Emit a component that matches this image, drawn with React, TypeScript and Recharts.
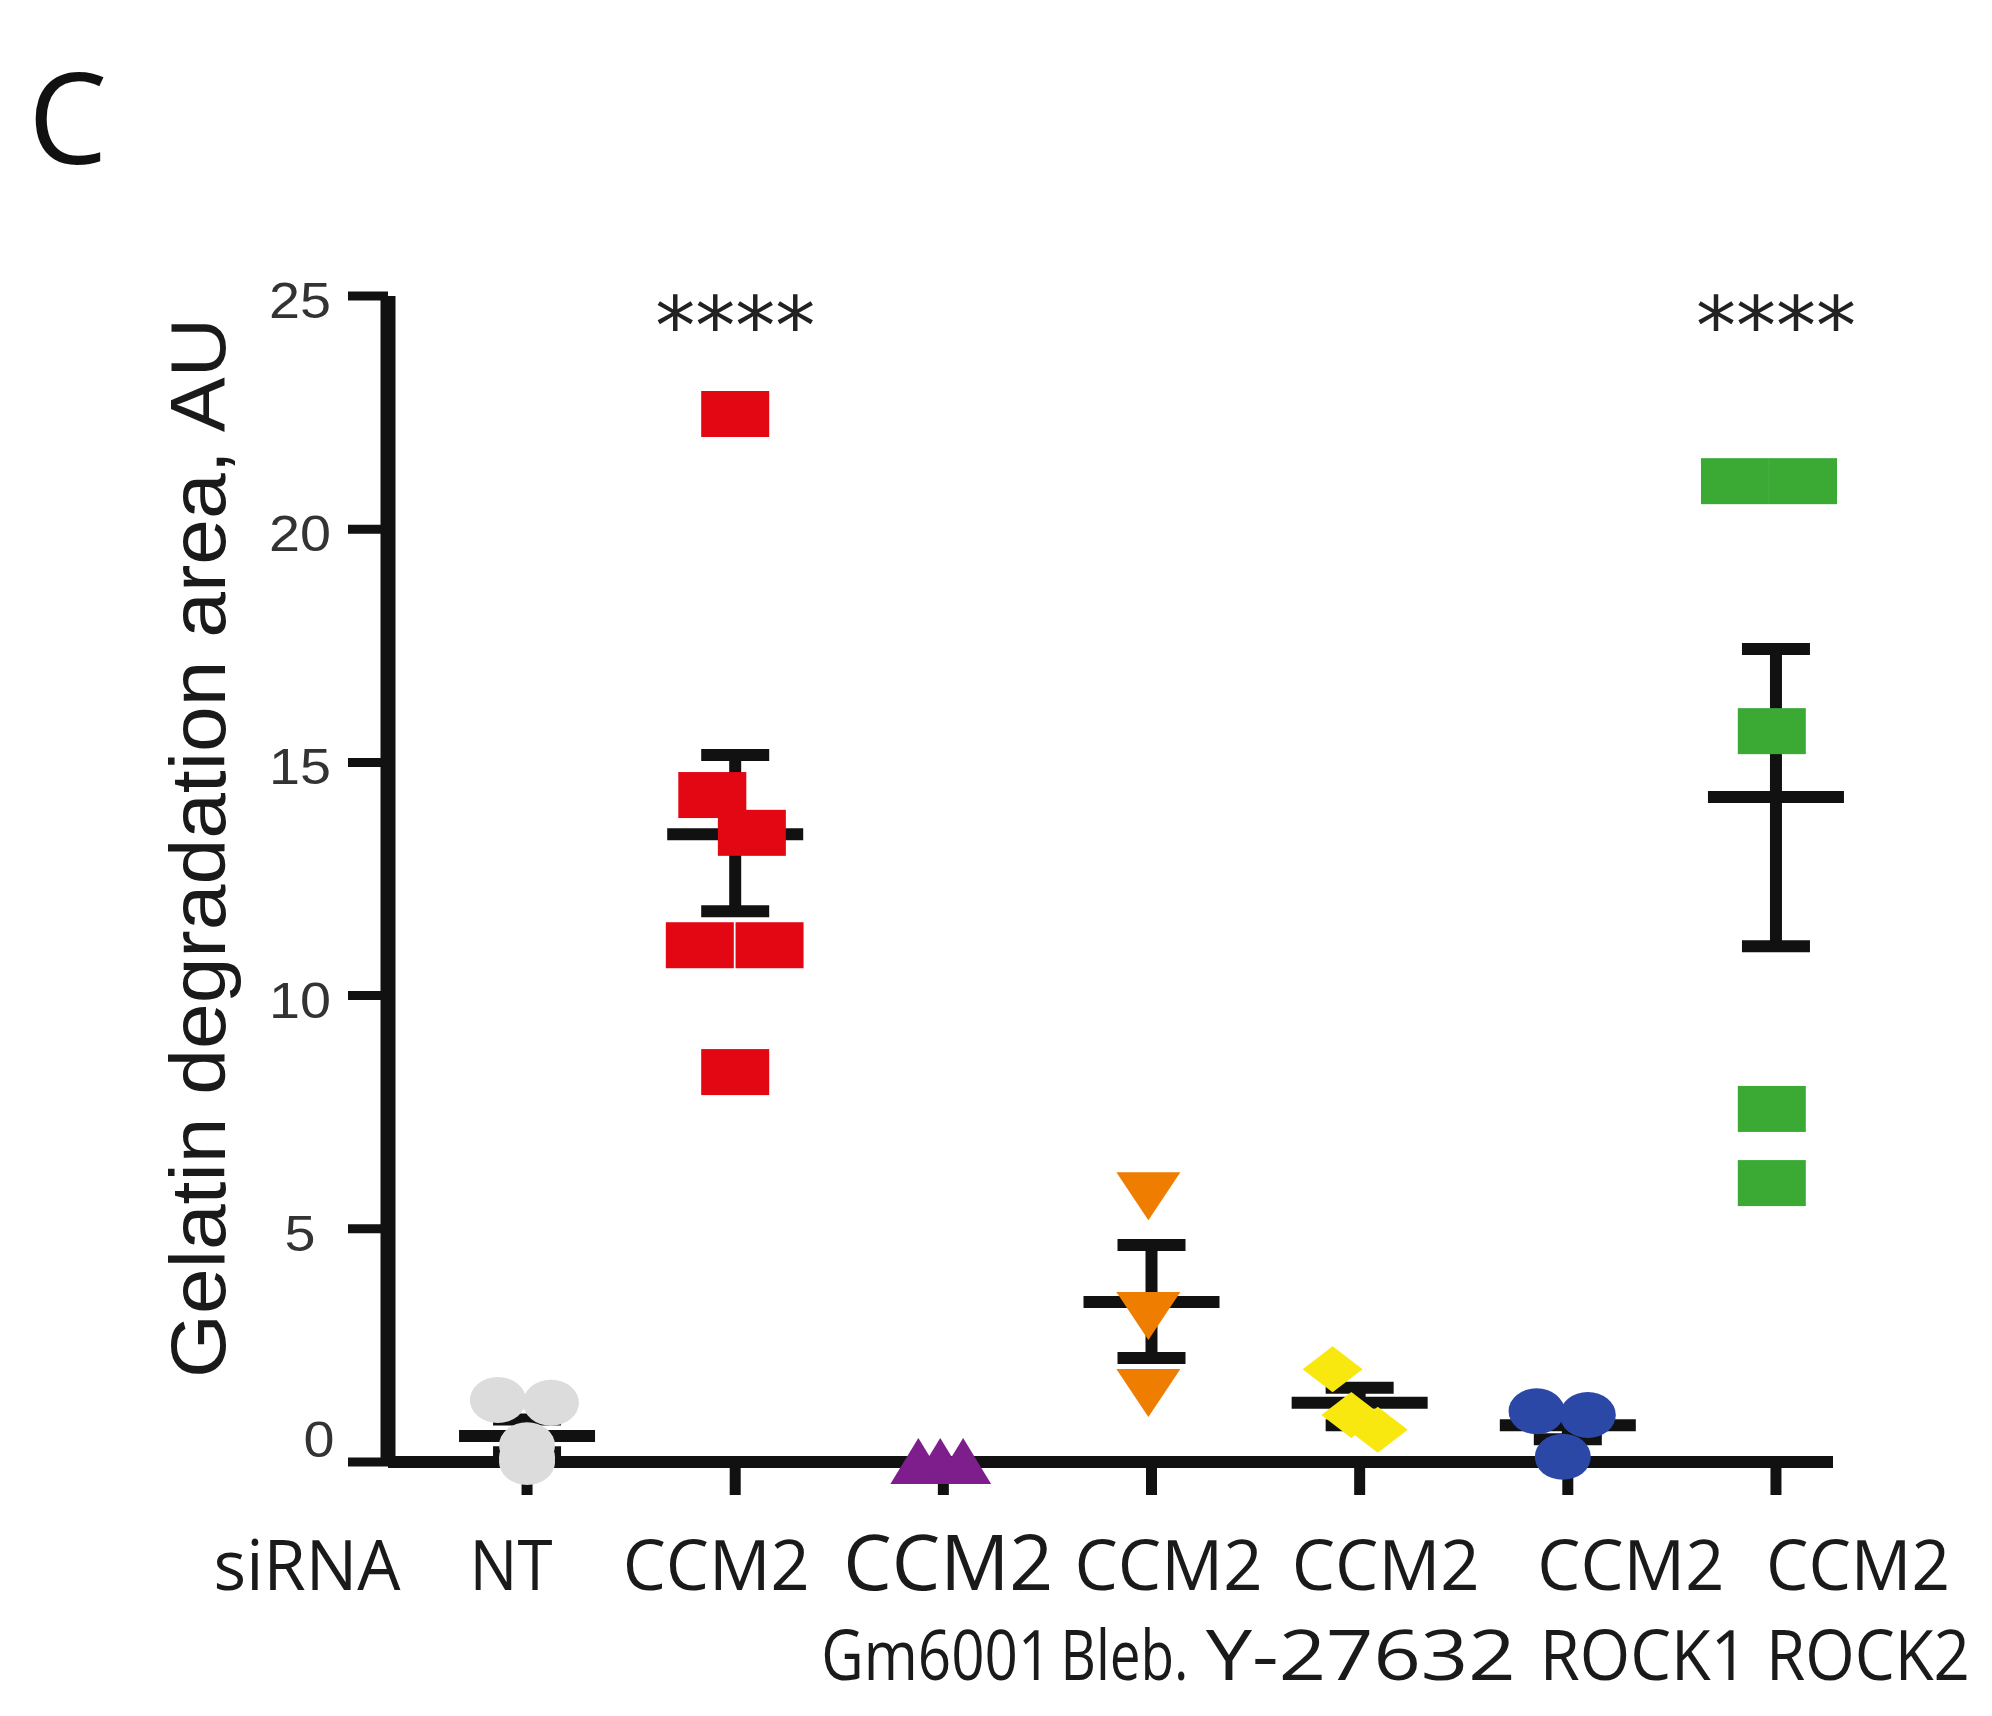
import React from "react";
import { ScatterChart, Scatter, XAxis, YAxis, ErrorBar, Label } from "recharts";

// category labels under the axis
const categories = ["NT", "CCM2", "CCM2", "CCM2", "CCM2", "CCM2", "CCM2"];
const treatments = ["", "", "Gm6001", "Bleb.", "Y-27632", "ROCK1", "ROCK2"];
const yTicks = [0, 5, 10, 15, 20, 25];
const xTicks = [0, 1, 2, 3, 4, 5, 6];

const ntValues = [1.33, 1.27, 0.36, 0.1, 0.0];
const ntJitter = [-0.14, 0.115, 0.0, 0.0, 0.0];
const ccm2Values = [22.47, 14.3, 13.49, 11.08, 11.08, 8.36];
const ccm2Jitter = [0, -0.11, 0.08, -0.17, 0.165, 0];
const gm6001Values = [0.02, 0.02, 0.02];
const gm6001Jitter = [-0.12, -0.015, 0.095];
const blebValues = [5.7, 3.13, 1.48];
const blebJitter = [-0.015, -0.015, -0.015];
const y27632Values = [1.99, 1.01, 0.69];
const y27632Jitter = [-0.13, -0.04, 0.087];
const rock1Values = [1.09, 1.01, 0.11];
const rock1Jitter = [-0.15, 0.096, -0.024];
const rock2Values = [21.03, 21.03, 15.67, 7.57, 5.98];
const rock2Jitter = [-0.197, 0.13, -0.02, -0.02, -0.02];

// mean and error bar extents per group
const means = [0.56, 13.46, 0, 3.43, 1.27, 0.79, 14.26];
const errLow = [0.35, 1.65, 0, 1.2, 0.48, 0.3, 3.2];
const errHigh = [0.35, 1.7, 0, 1.22, 0.32, 0.3, 3.17];

// significance marks
const starGroups = [1, 6];
const starLevel = 24.7;

// label layout (px offsets from tick, and drawn widths)
const row1Dx = [-16, -19, 5, 17, 26, 63, 82];
const row1W = [83, 187, 210, 188, 188, 187, 184];
const row2Dx = [0, 0, -7, -27, 1, 76, 92];
const row2W = [0, 0, 230, 128, 310, 208, 204];

const toPoints = (vals: number[], jit: number[], g: number) =>
  vals.map((v, k) => ({ x: g + jit[k], y: v }));

const summary = means.map((m, i) => ({ x: i, y: m, err: [errLow[i], errHigh[i]] }));
const stars = starGroups.map((g) => ({ x: g, y: starLevel }));

const INK = "#111";

const makeRect = (fill: string) => (p: any) => (
  <rect x={p.cx - 34} y={p.cy - 23} width={68} height={46} fill={fill} />
);
const makeEllipse = (fill: string) => (p: any) => (
  <ellipse cx={p.cx} cy={p.cy} rx={28} ry={23} fill={fill} />
);
const makeTriUp = (fill: string) => (p: any) => (
  <polygon
    points={`${p.cx},${p.cy - 23} ${p.cx + 28},${p.cy + 23} ${p.cx - 28},${p.cy + 23}`}
    fill={fill}
  />
);
const makeTriDown = (fill: string) => (p: any) => (
  <polygon
    points={`${p.cx - 32},${p.cy - 24} ${p.cx + 32},${p.cy - 24} ${p.cx},${p.cy + 24}`}
    fill={fill}
  />
);
const makeDiamond = (fill: string) => (p: any) => (
  <polygon
    points={`${p.cx},${p.cy - 23} ${p.cx + 30},${p.cy} ${p.cx},${p.cy + 23} ${p.cx - 30},${p.cy}`}
    fill={fill}
  />
);

const groups = [
  { key: "nt", data: toPoints(ntValues, ntJitter, 0), shape: makeEllipse("#dcdcdc") },
  { key: "ccm2", data: toPoints(ccm2Values, ccm2Jitter, 1), shape: makeRect("#e30613") },
  { key: "gm", data: toPoints(gm6001Values, gm6001Jitter, 2), shape: makeTriUp("#7d1e8c") },
  { key: "bleb", data: toPoints(blebValues, blebJitter, 3), shape: makeTriDown("#ef7d00") },
  { key: "y27", data: toPoints(y27632Values, y27632Jitter, 4), shape: makeDiamond("#f8e80f") },
  { key: "rock1", data: toPoints(rock1Values, rock1Jitter, 5), shape: makeEllipse("#2b48a6") },
  { key: "rock2", data: toPoints(rock2Values, rock2Jitter, 6), shape: makeRect("#3aaa35") },
];

const MeanLine = (p: any) => (
  <line x1={p.cx - 68} x2={p.cx + 68} y1={p.cy} y2={p.cy} stroke={INK} strokeWidth={12} />
);

const StarShape = (p: any) => (
  <text
    x={p.cx}
    y={p.cy + 44}
    textAnchor="middle"
    fontFamily="DejaVu Sans"
    fontSize={80}
    fill="#222"
  >
    ****
  </text>
);

const labelFont = "'Open Sans', 'Noto Sans', sans-serif";

function XTick(props: any) {
  const { x, y, payload } = props;
  const i = payload.value as number;
  return (
    <g>
      {i === 0 && (
        <text
          x={x - 220}
          y={y + 95}
          textAnchor="middle"
          fontFamily={labelFont}
          fontSize={70}
          fill="#1a1a1a"
          textLength={187}
          lengthAdjust="spacingAndGlyphs"
        >
          siRNA
        </text>
      )}
      <text
        x={x + row1Dx[i]}
        y={y + 95}
        textAnchor="middle"
        fontFamily={labelFont}
        fontSize={i === 2 ? 76 : 70}
        fill="#1a1a1a"
        textLength={row1W[i]}
        lengthAdjust="spacingAndGlyphs"
      >
        {categories[i]}
      </text>
      {treatments[i] && (
        <text
          x={x + row2Dx[i]}
          y={y + 185}
          textAnchor="middle"
          fontFamily={labelFont}
          fontSize={70}
          fill="#1a1a1a"
          textLength={row2W[i]}
          lengthAdjust="spacingAndGlyphs"
        >
          {treatments[i]}
        </text>
      )}
    </g>
  );
}

function YTick(props: any) {
  const { x, y, payload } = props;
  const v = payload.value as number;
  const s = String(v);
  const isZero = v === 0;
  return (
    <text
      x={isZero ? x - 11 : x - 30}
      y={isZero ? y - 5 : y + 22}
      textAnchor="middle"
      fontFamily="'Liberation Sans', Arial, sans-serif"
      fontSize={50}
      fill="#333"
      textLength={s.length * 31}
      lengthAdjust="spacingAndGlyphs"
    >
      {s}
    </text>
  );
}

const renderYLabel = () => (
  <text
    x={225}
    y={848}
    transform="rotate(-90 225 848)"
    textAnchor="middle"
    fontFamily="'Liberation Sans', Arial, sans-serif"
    fontSize={78}
    fill="#1a1a1a"
    textLength={1060}
    lengthAdjust="spacingAndGlyphs"
  >
    Gelatin degradation area, AU
  </text>
);

export default function App() {
  return (
    <div
      style={{
        position: "absolute",
        left: 0,
        top: 0,
        width: 1992,
        height: 1716,
        background: "#fff",
        overflow: "hidden",
      }}
    >
      <div
        style={{
          position: "absolute",
          left: 28,
          top: 52,
          fontFamily: "'Open Sans', sans-serif",
          fontSize: 126,
          lineHeight: 1,
          color: "#111",
        }}
      >
        C
      </div>
      <ScatterChart
        width={1992}
        height={1716}
        margin={{ top: 296, right: 159, bottom: 0, left: 0 }}
      >
        <XAxis
          type="number"
          dataKey="x"
          domain={[-0.668, 6.274]}
          ticks={xTicks}
          interval={0}
          height={254}
          tickSize={33}
          tickMargin={0}
          axisLine={{ stroke: INK, strokeWidth: 12 }}
          tickLine={{ stroke: INK, strokeWidth: 11 }}
          tick={<XTick />}
        />
        <YAxis
          type="number"
          dataKey="y"
          domain={[0, 25]}
          ticks={yTicks}
          interval={0}
          width={388}
          tickSize={40}
          tickMargin={18}
          axisLine={{ stroke: INK, strokeWidth: 15 }}
          tickLine={{ stroke: INK, strokeWidth: 9 }}
          tick={<YTick />}
        >
          <Label content={renderYLabel} />
        </YAxis>
        <Scatter data={summary} shape={MeanLine} isAnimationActive={false}>
          <ErrorBar
            dataKey="err"
            direction="y"
            width={34}
            strokeWidth={12}
            stroke={INK}
            isAnimationActive={false}
          />
        </Scatter>
        {groups.map((g) => (
          <Scatter key={g.key} data={g.data} shape={g.shape} isAnimationActive={false} />
        ))}
        <Scatter data={stars} shape={StarShape} isAnimationActive={false} />
      </ScatterChart>
    </div>
  );
}
